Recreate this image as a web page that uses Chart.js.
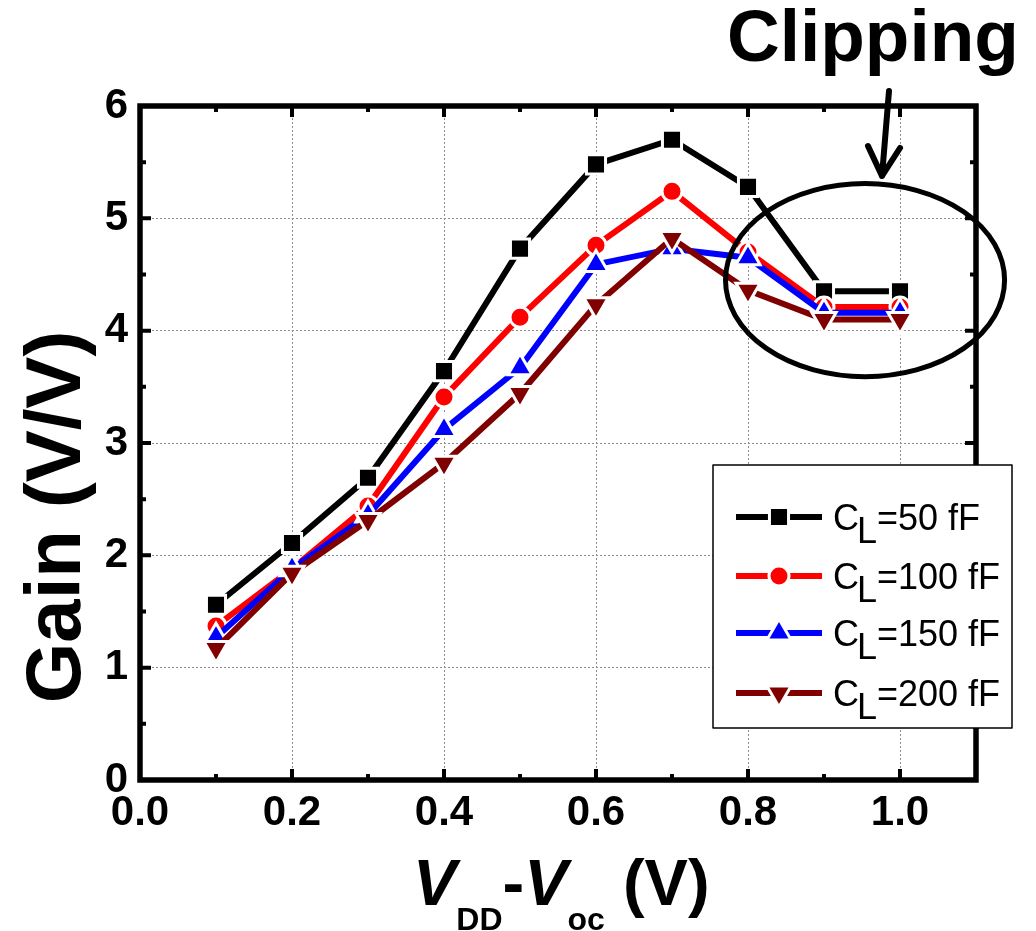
<!DOCTYPE html>
<html>
<head>
<meta charset="utf-8">
<script src="https://cdn.jsdelivr.net/npm/chart.js@4.4.0/dist/chart.umd.min.js"></script>
<style>
  html, body { margin: 0; padding: 0; background: #fff; }
  #wrap { width: 1036px; height: 931px; }
</style>
</head>
<body>
<div id="wrap"><canvas id="gainChart"></canvas></div>
<script>
// data
const vdiff = [0.1, 0.2, 0.3, 0.4, 0.5, 0.6, 0.7, 0.8, 0.9, 1.0];
const gain50 = [1.56, 2.11, 2.69, 3.64, 4.73, 5.48, 5.70, 5.28, 4.35, 4.35];
const gain100 = [1.37, 1.88, 2.44, 3.41, 4.12, 4.76, 5.24, 4.70, 4.21, 4.21];
const gain150 = [1.27, 1.88, 2.36, 3.12, 3.67, 4.59, 4.73, 4.65, 4.16, 4.16];
const gain200 = [1.17, 1.84, 2.31, 2.82, 3.44, 4.23, 4.82, 4.36, 4.10, 4.10];
const loadCaps = ['50 fF', '100 fF', '150 fF', '200 fF'];
const xTickLabels = ['0.0', '0.2', '0.4', '0.6', '0.8', '1.0'];
const yTickLabels = ['0', '1', '2', '3', '4', '5', '6'];

const FONT = "'Liberation Sans', Arial, sans-serif";

function series(values, cap, color, style, radius, rotation, order) {
  return {
    label: 'C_L=' + cap,
    data: vdiff.map((x, i) => ({ x: x, y: values[i] })),
    borderColor: color,
    backgroundColor: color,
    borderWidth: 6,
    pointStyle: style,
    pointRotation: rotation,
    pointRadius: radius,
    pointBackgroundColor: color,
    pointBorderColor: '#fff',
    pointBorderWidth: 3,
    tension: 0,
    order: order
  };
}

// frame, inward ticks, titles, annotation and legend
const decor = {
  id: 'decor',
  afterDraw(chart) {
    const ctx = chart.ctx;
    const a = chart.chartArea;
    const xs = chart.scales.x, ys = chart.scales.y;
    ctx.save();

    // ticks
    ctx.strokeStyle = '#000';
    ctx.lineWidth = 4;
    ctx.lineCap = 'butt';
    xs.ticks.forEach((t, i) => {
      const px = xs.getPixelForValue(t.value);
      const len = i % 2 === 0 ? 11 : 6;
      ctx.beginPath();
      ctx.moveTo(px, a.bottom); ctx.lineTo(px, a.bottom - len);
      ctx.moveTo(px, a.top); ctx.lineTo(px, a.top + len);
      ctx.stroke();
    });
    ys.ticks.forEach(t => {
      const py = ys.getPixelForValue(t.value);
      const len = t.value % 1 === 0 ? 11 : 6;
      ctx.beginPath();
      ctx.moveTo(a.left, py); ctx.lineTo(a.left + len, py);
      ctx.moveTo(a.right, py); ctx.lineTo(a.right - len, py);
      ctx.stroke();
    });

    // frame
    ctx.lineWidth = 5.5;
    ctx.strokeRect(a.left, a.top, a.right - a.left, a.bottom - a.top);

    // y title
    ctx.fillStyle = '#000';
    ctx.save();
    ctx.translate(80, 517);
    ctx.rotate(-Math.PI / 2);
    ctx.font = 'bold 78px ' + FONT;
    ctx.textAlign = 'center';
    ctx.textBaseline = 'alphabetic';
    ctx.fillText('Gain (V/V)', 0, 0);
    ctx.restore();

    // x title with subscripts
    const runs = [
      { t: 'V', s: 65, it: true, dy: 0 },
      { t: 'DD', s: 32, it: false, dy: 25 },
      { t: '-', s: 65, it: false, dy: 0 },
      { t: 'V', s: 65, it: true, dy: 0 },
      { t: 'oc', s: 32, it: false, dy: 25 },
      { t: ' (V)', s: 65, it: false, dy: 0 }
    ];
    ctx.textAlign = 'left';
    let total = 0;
    runs.forEach(r => {
      ctx.font = (r.it ? 'italic ' : '') + 'bold ' + r.s + 'px ' + FONT;
      r.w = ctx.measureText(r.t).width;
      total += r.w;
    });
    let tx = 413;
    runs.forEach(r => {
      ctx.font = (r.it ? 'italic ' : '') + 'bold ' + r.s + 'px ' + FONT;
      ctx.fillText(r.t, tx, 905 + r.dy);
      tx += r.w;
    });

    // clipping annotation
    ctx.font = 'bold 73px ' + FONT;
    ctx.fillText('Clipping', 727, 61);
    ctx.lineWidth = 5;
    const cx = xs.getPixelForValue(0.954), cy = ys.getPixelForValue(4.45);
    const rx = xs.getPixelForValue(0.954 + 0.1836) - cx;
    const ry = ys.getPixelForValue(4.45 - 0.86) - cy;
    ctx.beginPath();
    ctx.ellipse(cx, cy, rx, ry, 0, 0, Math.PI * 2);
    ctx.stroke();
    ctx.lineWidth = 6;
    ctx.lineCap = 'round';
    ctx.lineJoin = 'round';
    ctx.beginPath();
    ctx.moveTo(889, 91); ctx.lineTo(882, 176);
    ctx.moveTo(868, 146); ctx.lineTo(882, 176); ctx.lineTo(900, 148);
    ctx.stroke();

    // legend
    const lx = 713, ly = 465, lw = 299, lh = 263;
    ctx.fillStyle = '#fff';
    ctx.fillRect(lx, ly, lw, lh);
    ctx.strokeStyle = '#000';
    ctx.lineWidth = 1.5;
    ctx.strokeRect(lx, ly, lw, lh);
    const rows = [517, 576, 633, 693];
    chart.data.datasets.forEach((ds, i) => {
      const y = rows[i];
      ctx.lineCap = 'butt';
      ctx.strokeStyle = ds.borderColor;
      ctx.lineWidth = 6;
      ctx.beginPath();
      ctx.moveTo(736, y); ctx.lineTo(822, y);
      ctx.stroke();
      ctx.fillStyle = ds.pointBackgroundColor;
      ctx.strokeStyle = '#fff';
      ctx.lineWidth = 3;
      Chart.helpers.drawPoint(ctx, {
        pointStyle: ds.pointStyle,
        rotation: ds.pointRotation,
        radius: ds.pointRadius,
        borderWidth: 3
      }, 779, y);
      ctx.fillStyle = '#000';
      ctx.font = '36px ' + FONT;
      let x = 833;
      ctx.fillText('C', x, y + 13);
      x += ctx.measureText('C').width - 2;
      ctx.fillText('L', x, y + 26);
      x += ctx.measureText('L').width;
      ctx.fillText('=' + loadCaps[i], x, y + 13);
    });

    ctx.restore();
  }
};

new Chart(document.getElementById('gainChart'), {
  type: 'line',
  data: {
    datasets: [
      series(gain50, loadCaps[0], '#000000', 'rect', 13.5, 0, 4),
      series(gain100, loadCaps[1], '#ff0000', 'circle', 10, 0, 3),
      series(gain150, loadCaps[2], '#0000ff', 'triangle', 14, 0, 2),
      series(gain200, loadCaps[3], '#800000', 'triangle', 14, 180, 1)
    ]
  },
  plugins: [decor],
  options: {
    responsive: true,
    maintainAspectRatio: false,
    animation: false,
    events: [],
    layout: { padding: { top: 106, right: 60, left: 0, bottom: 0 } },
    plugins: {
      legend: { display: false },
      tooltip: { enabled: false }
    },
    scales: {
      x: {
        type: 'linear',
        min: 0,
        max: 1.1,
        afterFit: s => { s.height = 151; },
        grid: {
          color: ctx => {
            const k = Math.round(ctx.tick.value * 10);
            return k % 2 === 0 && k > 0 && k < 11 ? '#8c8c8c' : 'rgba(0,0,0,0)';
          },
          lineWidth: 1,
          drawTicks: false
        },
        border: { display: false, dash: [2, 2] },
        ticks: {
          stepSize: 0.1,
          autoSkip: false,
          maxRotation: 0,
          padding: 8,
          color: '#000',
          font: { family: FONT, size: 42, weight: 'bold' },
          callback: v => {
            const k = Math.round(v * 10);
            return k % 2 === 0 && k <= 10 ? xTickLabels[k / 2] : '';
          }
        }
      },
      y: {
        min: 0,
        max: 6,
        afterFit: s => { s.width = 140; },
        grid: {
          color: ctx => (ctx.tick.value % 1 === 0 && ctx.tick.value > 0 && ctx.tick.value < 6) ? '#8c8c8c' : 'rgba(0,0,0,0)',
          lineWidth: 1,
          drawTicks: false
        },
        border: { display: false, dash: [2, 2] },
        ticks: {
          stepSize: 0.5,
          autoSkip: false,
          padding: 12,
          color: '#000',
          font: { family: FONT, size: 42, weight: 'bold' },
          callback: v => v % 1 === 0 ? yTickLabels[v] : ''
        }
      }
    }
  }
});
</script>
</body>
</html>
